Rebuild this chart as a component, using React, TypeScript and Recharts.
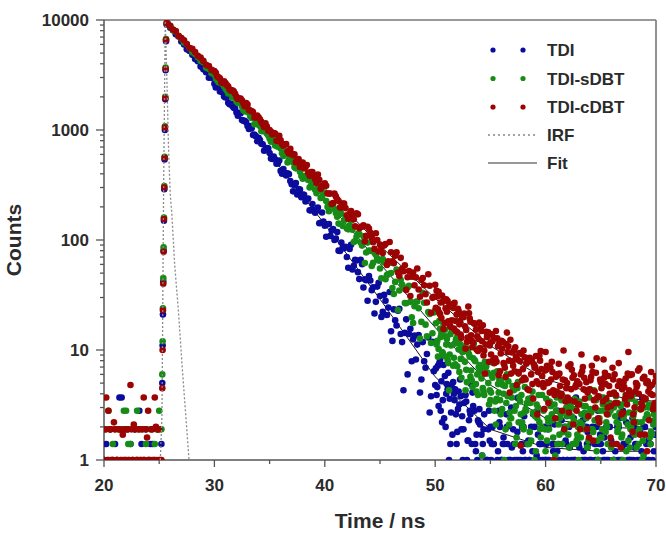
import { ScatterChart, Scatter, XAxis, YAxis, ReferenceLine, Legend } from "recharts";

// time axis (ns) for the decay part, 0.25 ns bins
const times = [
  25.75, 26, 26.25, 26.5, 26.75, 27, 27.25, 27.5, 27.75, 28,
  28.25, 28.5, 28.75, 29, 29.25, 29.5, 29.75, 30, 30.25, 30.5,
  30.75, 31, 31.25, 31.5, 31.75, 32, 32.25, 32.5, 32.75, 33,
  33.25, 33.5, 33.75, 34, 34.25, 34.5, 34.75, 35, 35.25, 35.5,
  35.75, 36, 36.25, 36.5, 36.75, 37, 37.25, 37.5, 37.75, 38,
  38.25, 38.5, 38.75, 39, 39.25, 39.5, 39.75, 40, 40.25, 40.5,
  40.75, 41, 41.25, 41.5, 41.75, 42, 42.25, 42.5, 42.75, 43,
  43.25, 43.5, 43.75, 44, 44.25, 44.5, 44.75, 45, 45.25, 45.5,
  45.75, 46, 46.25, 46.5, 46.75, 47, 47.25, 47.5, 47.75, 48,
  48.25, 48.5, 48.75, 49, 49.25, 49.5, 49.75, 50, 50.25, 50.5,
  50.75, 51, 51.25, 51.5, 51.75, 52, 52.25, 52.5, 52.75, 53,
  53.25, 53.5, 53.75, 54, 54.25, 54.5, 54.75, 55, 55.25, 55.5,
  55.75, 56, 56.25, 56.5, 56.75, 57, 57.25, 57.5, 57.75, 58,
  58.25, 58.5, 58.75, 59, 59.25, 59.5, 59.75, 60, 60.25, 60.5,
  60.75, 61, 61.25, 61.5, 61.75, 62, 62.25, 62.5, 62.75, 63,
  63.25, 63.5, 63.75, 64, 64.25, 64.5, 64.75, 65, 65.25, 65.5,
  65.75, 66, 66.25, 66.5, 66.75, 67, 67.25, 67.5, 67.75, 68,
  68.25, 68.5, 68.75, 69, 69.25, 69.5, 69.75, 70,
];

// in-between bins for 30-50 ns
const midTimes = [
  30.125, 30.375, 30.625, 30.875, 31.125, 31.375, 31.625, 31.875, 32.125, 32.375,
  32.625, 32.875, 33.125, 33.375, 33.625, 33.875, 34.125, 34.375, 34.625, 34.875,
  35.125, 35.375, 35.625, 35.875, 36.125, 36.375, 36.625, 36.875, 37.125, 37.375,
  37.625, 37.875, 38.125, 38.375, 38.625, 38.875, 39.125, 39.375, 39.625, 39.875,
  40.125, 40.375, 40.625, 40.875, 41.125, 41.375, 41.625, 41.875, 42.125, 42.375,
  42.625, 42.875, 43.125, 43.375, 43.625, 43.875, 44.125, 44.375, 44.625, 44.875,
  45.125, 45.375, 45.625, 45.875, 46.125, 46.375, 46.625, 46.875, 47.125, 47.375,
  47.625, 47.875, 48.125, 48.375, 48.625, 48.875, 49.125, 49.375, 49.625, 49.875,
];

// extra bins in the noisy tail
const tailTimes = [
  50.125, 50.375, 50.625, 50.875, 51.125, 51.375, 51.625, 51.875, 52.125, 52.375,
  52.625, 52.875, 53.125, 53.375, 53.625, 53.875, 54.125, 54.375, 54.625, 54.875,
  55.125, 55.375, 55.625, 55.875, 56.125, 56.375, 56.625, 56.875, 57.125, 57.375,
  57.625, 57.875, 58.125, 58.375, 58.625, 58.875, 59.125, 59.375, 59.625, 59.875,
  60.125, 60.375, 60.625, 60.875, 61.125, 61.375, 61.625, 61.875, 62.125, 62.375,
  62.625, 62.875, 63.125, 63.375, 63.625, 63.875, 64.125, 64.375, 64.625, 64.875,
  65.125, 65.375, 65.625, 65.875, 66.125, 66.375, 66.625, 66.875, 67.125, 67.375,
  67.625, 67.875, 68.125, 68.375, 68.625, 68.875, 69.125, 69.375, 69.625, 69.875,
];
const tailTimesB = [
  50.06, 50.31, 50.56, 50.81, 51.06, 51.31, 51.56, 51.81, 52.06, 52.31,
  52.56, 52.81, 53.06, 53.31, 53.56, 53.81, 54.06, 54.31, 54.56, 54.81,
  55.06, 55.31, 55.56, 55.81, 56.06, 56.31, 56.56, 56.81, 57.06, 57.31,
  57.56, 57.81, 58.06, 58.31, 58.56, 58.81, 59.06, 59.31, 59.56, 59.81,
  60.06, 60.31, 60.56, 60.81, 61.06, 61.31, 61.56, 61.81, 62.06, 62.31,
  62.56, 62.81, 63.06, 63.31, 63.56, 63.81, 64.06, 64.31, 64.56, 64.81,
  65.06, 65.31, 65.56, 65.81, 66.06, 66.31, 66.56, 66.81, 67.06, 67.31,
  67.56, 67.81, 68.06, 68.31, 68.56, 68.81, 69.06, 69.31, 69.56, 69.81,
];
const tailTimesC = [
  50.19, 50.44, 50.69, 50.94, 51.19, 51.44, 51.69, 51.94, 52.19, 52.44,
  52.69, 52.94, 53.19, 53.44, 53.69, 53.94, 54.19, 54.44, 54.69, 54.94,
  55.19, 55.44, 55.69, 55.94, 56.19, 56.44, 56.69, 56.94, 57.19, 57.44,
  57.69, 57.94, 58.19, 58.44, 58.69, 58.94, 59.19, 59.44, 59.69, 59.94,
  60.19, 60.44, 60.69, 60.94, 61.19, 61.44, 61.69, 61.94, 62.19, 62.44,
  62.69, 62.94, 63.19, 63.44, 63.69, 63.94, 64.19, 64.44, 64.69, 64.94,
  65.19, 65.44, 65.69, 65.94, 66.19, 66.44, 66.69, 66.94, 67.19, 67.44,
  67.69, 67.94, 68.19, 68.44, 68.69, 68.94, 69.19, 69.44, 69.69, 69.94,
];

// pre-pulse background and rising edge
const baseTimes = [
  20, 20.2, 20.4, 20.6, 20.8, 21, 21.2, 21.4, 21.6, 21.8, 22, 22.2, 22.4, 22.6,
  22.8, 23, 23.2, 23.4, 23.6, 23.8, 24, 24.2, 24.4, 24.6, 24.8, 25, 25.2,
];
const baseTimesB = [
  20.1, 20.3, 20.5, 20.7, 20.9, 21.1, 21.3, 21.5, 21.7, 21.9, 22.1, 22.3, 22.5,
  22.7, 22.9, 23.1, 23.3, 23.5, 23.7, 23.9, 24.1, 24.3, 24.5, 24.7, 24.9, 25.1,
];
const riseTimes = [25.28, 25.31, 25.34, 25.37, 25.4, 25.43, 25.46, 25.49, 25.52, 25.55, 25.58, 25.62, 25.67];

// TDI
const tdiBase = [1, 1.4, 1, 1.9, 1, 1.4, 1, 3.7, 3.7, 1, 1.9, 1, 1.4, 1, 1.9, 1, 2.8, 1.4, 1, 1.9, 1, 1.4, 1.4, 1, 1.9, 1, 1.4];
const tdiRise = [5, 11, 21, 42, 80, 150, 290, 540, 1000, 1900, 3500, 6400, 9100];
const tdiDecay = [
  9330, 8510, 8110, 7420, 7070, 6370, 5980, 5410, 5230, 4820,
  4410, 4220, 3770, 3560, 3350, 2990, 2980, 2630, 2510, 2240,
  2190, 1975, 1770, 1735, 1595, 1440, 1430, 1230, 1210, 1085,
  1085, 900, 879, 848, 749, 648, 686, 617, 545, 541,
  496, 425, 441, 386, 397, 322, 315, 259, 288, 259,
  224, 238, 186, 187, 184, 142, 178, 135, 139, 109,
  126, 103, 80, 95, 84, 70, 83, 54, 66, 51,
  66, 37, 43, 47, 35, 21.5, 37.7, 31, 22.2, 28,
  24.3, 14.8, 23.4, 16.7, 23.7, 11.8, 14.3, 6.0, 15.6, 12.5,
  8.2, 13.7, 5.4, 7.9, 9.2, 2.7, 11.9, 4.8, 7.2, 2.8,
  7.3, 4.0, 1.0, 4.6, 3.5, 1.8, 5.4, 1.0, 3.9, 1.5,
  4.9, null, 1.7, 2.9, 1.1, null,
  1, 2, 1.4, null, 2.8, 1, 1.4, 2, 1, null,
  1.4, 3.7, 1, 2, 1.4, 1, null, 2, 2.8, 1.4,
  1, 1, 2, null, 1.4, 2.8, 1, 1.4, 2, 1,
  null, 1, 3.7, 1.4, 2, 1, 1.4, null, 2, 1,
  2.8, 1.4, 1, 2, null, 1.4, 1, 2, 1, 2.8,
  1.4, null, 1, 2, 1.4, 1, 3.7, 2, 1, 1.4,
  null, 2,
];
const tdiMid = [
  2440, 2445, 2240, 2015, 1990, 1713, 1650, 1565, 1346, 1423,
  1214, 1175, 1021, 1037, 910, 789, 811, 742, 659, 682,
  552, 575, 494, 527, 400, 407, 404, 343, 277, 329,
  290, 245, 257, 233, 186, 212, 177, 197, 143, 147,
  107, 140, 122, 100, 118, 79.5, 85.4, 86.8, 56, 90.5,
  58.4, 65.1, 44.1, 60.2, 43.9, 28, 42.9, 37.1, 27.4, 40.8,
  20, 31.7, 20.8, 33.7, 12.1, 18.6, 22.8, 14.0, 4.3, 19,
  14, 7.9, 13.5, 11.2, 4.1, 11.8, 6.9, 13, 3.8, 6.4,
];
const tdiTail = [
  3.9, 7.6, 2.2, 5.8, 4.4, 1.4, 5.1, 2.6, 4.2, 1.9,
  3.3, 1.0, 2.8, 4.1, 1.4, 2.3, null, 1.9, 1.0, 2.8,
  1.4, null, 1, 2.0, 1.4, null, 1, 3.0, 1.4, 1,
  null, 2.0, 1, 1.4, null, 2.6, 1, null, 1.4, 2,
  1, null, 1.4, 1, 2.8, null, 1, 1.4, 2, null,
  1, 1.4, null, 2.3, 1, 1.4, 1, null, 2, 1.4,
  null, 1, 2.8, 1.4, 1, null, 2, 1, 1.4, null,
  1, 2.4, 1.4, null, 1, 2, 1.4, 1, null, 1.7,
];
const tdiTailB = [
  6.8, 3.1, 5.2, 2.4, 4.9, 3.6, 1.7, 4.4, 2.9, 3.8,
  1.9, 3.4, 2.3, 1.4, 2.8, 1.0, 2.1, 1.4, null, 1.9,
  1.0, 1.4, null, 2.2, 1.0, null, 1.4, 1.0, 1.9, null,
  1.0, 1.4, 2.5, null, 1.0, 1.2, null, 1.7, 1.0, null,
  1.4, 1.0, null, 2.1, 1.2, null, 1.0, 1.5, null, 1.0,
  2.4, null, 1.3, 1.0, null, 1.8, 1.0, null, 1.4, 1.0,
  null, 1.6, 1.0, 2.0, null, 1.2, 1.0, null, 1.4, 2.2,
  1.0, null, 1.3, 1.0, 1.8, null, 1.0, 1.5, null, 1.2,
];
const tdiTailC = [
  4.6, 8.1, 3.5, 2.0, 6.2, 2.7, 4.0, 1.4, 3.2, 2.5,
  3.9, 1.5, 2.6, 3.1, 1.2, 2.2, 1.7, 2.6, 1.0, 1.5,
  2.0, null, 1.2, 1.0, 1.6, 2.6, null, 1.3, 1.0, 1.8,
  null, 1.2, 1.0, 1.5, 2.0, null, 1.1, 1.4, null, 1.0,
  1.9, null, 1.2, 1.0, 1.4, 2.3, null, 1.0, 1.3, null,
  1.0, 1.6, null, 1.2, 2.0, 1.0, null, 1.4, 1.0, 1.7,
  1.2, null, 1.0, 1.5, 1.0, null, 2.4, 1.3, null, 1.0,
  1.6, 1.0, null, 1.9, 1.2, 1.0, null, 1.4, 1.0, 2.1,
];

// TDI-sDBT
const sdbtBase = [1, 1.9, 2.8, 1, 1.4, 1.9, 1, 1.9, 1.9, 2.8, 2.8, 1.4, 1.4, 1, 1.9, 2.8, 1, 1.9, 1, 1.4, 1, 1.9, 1, 1.4, 1.9, 2.8, 1.9];
const sdbtRise = [6, 12, 24, 45, 86, 160, 310, 570, 1080, 2000, 3700, 6700, 9300];
const sdbtDecay = [
  9290, 8780, 8030, 7860, 7150, 6800, 6230, 6020, 5540, 5080,
  4920, 4590, 4240, 4120, 3690, 3590, 3280, 3210, 2830, 2730,
  2610, 2380, 2150, 2160, 2000, 1815, 1770, 1645, 1480, 1465,
  1330, 1325, 1150, 1115, 978, 1007, 927, 838, 842, 722,
  705, 680, 580, 636, 537, 530, 458, 477, 418, 361,
  381, 351, 312, 332, 266, 284, 243, 267, 200, 207,
  209, 176, 141, 173, 151, 127, 136, 124, 98, 114,
  95, 108, 77, 80, 58, 78, 68, 55, 67, 44,
  49, 50, 32.3, 54, 34.8, 39.4, 26.7, 37.2, 27.4, 17.6,
  27.4, 24, 18, 26.9, 13.3, 21.3, 14.2, 23, 8.7, 13.1,
  17.2, 11.2, 4.3, 15, 11.4, 7.1, 11.3, 9.6, 4.3, 10.3,
  6.5, 11.4, 4.2, 6.3, 1.1, 7.8, 6.2, 3.5, 7.6, 2.1,
  4.1, 5.3, 1.0, 6.0, 2.7, 4.7, 1.4, 5.1, 2.6,
  1.9, 2.8, 1.4, 3.7, 1, 2.4, 1.9, 4.8, 1.2, 2.2,
  3.1, 1, 3.7, 1.7, 1.4, 2.8, null, 2.1, 3.4, 1.4,
  1, 2.6, 1.9, 1.3, 4.4, 1.9, 2.9, 1, 1.6, 3.7,
  2.2, 2.8, 1.4, null, 1.8, 3.2, 1, 3.9, 1.5, 2.0,
  2.7, 1.3, 1.9, 1, 3.5, 2.5, 1.4, 2.1, 2.9,
];
const sdbtMid = [
  3000, 2710, 2685, 2495, 2281, 2271, 1977, 1967, 1772, 1790,
  1509, 1481, 1438, 1286, 1126, 1195, 1088, 973, 971, 897,
  782, 810, 721, 742, 615, 605, 506, 559, 508, 448,
  473, 381, 382, 375, 300, 366, 287, 294, 241, 269,
  226, 183, 211, 191, 163, 188, 134, 156, 125, 151,
  95.7, 107, 113.5, 88.9, 61.8, 94.7, 79.7, 61.9, 73.3, 65,
  44.9, 62.4, 47.9, 62, 36.6, 41.6, 23.1, 43.3, 36.4, 26.6,
  38.3, 19.8, 25, 27.6, 12.7, 33.1, 17, 22.1, 11.6, 21.9,
];
const sdbtTail = [
  11.2, 18.4, 9.6, 15.3, 8.1, 13.9, 7.2, 12.4, 10.1, 5.6,
  9.8, 5.1, 8.7, 4.6, 7.9, 3.9, 6.8, 4.2, 7.1, 3.2,
  5.9, 2.8, 6.4, 3.5, 4.8, 1.9, 5.2, 2.4, 4.3, 1.6,
  3.7, 2.2, 4.6, 1.4, 3.3, 2.7, 1.2, 3.9, 2.0, 2.9,
  1.5, 3.4, 2.3, 1.1, 4.1, 2.6, 1.8, 3.0, 1.3, 2.5,
  3.6, 1.7, 2.2, null, 3.1, 1.5, 2.7, 4.3, 1.2, 2.4,
  1.9, 3.3, 1.4, 2.8, 1.0, 3.8, 2.1, 1.6, 2.6, 3.5,
  1.3, 2.2, 4.0, 1.8, 2.9, 1.1, 2.4, 3.2, 1.7, 2.3,
];
const sdbtTailB = [
  17.5, 10.2, 14.1, 8.8, 12.6, 9.1, 15.0, 7.4, 11.8, 8.3,
  10.4, 6.6, 9.2, 5.3, 8.1, 6.0, 7.3, 4.5, 6.9, 5.0,
  4.1, 6.2, 3.6, 5.4, 2.9, 4.7, 3.8, 2.4, 4.4, 3.1,
  2.2, 3.9, 2.7, 3.3, 1.8, 4.2, 2.5, 3.0, 1.6, 2.8,
  3.6, 1.9, 2.6, 3.2, 1.4, 2.4, 3.8, 2.0, 1.7, 3.0,
  2.3, 1.5, 3.4, 2.1, 2.7, 1.3, 2.9, 1.8, 3.5, 2.2,
  1.6, 2.8, 2.0, 3.3, 1.4, 2.5, 1.9, 3.1, 2.4, 1.2,
  2.7, 3.6, 1.7, 2.2, 2.9, 1.5, 2.4, 3.0, 1.8, 2.6,
];
const sdbtTailC = [
  12.1, 15.6, 9.4, 13.3, 7.6, 11.0, 8.5, 12.9, 6.3, 10.8,
  7.8, 9.9, 5.7, 8.4, 4.9, 7.0, 5.5, 3.9, 6.1, 4.3,
  5.6, 3.4, 4.9, 2.6, 4.0, 3.3, 2.1, 3.7, 2.8, 4.5,
  3.4, 2.0, 2.9, 3.6, 1.5, 2.6, 3.2, 2.2, 3.9, 1.9,
  2.4, 3.1, 1.6, 2.8, 2.1, 3.5, 1.8, 2.5, 3.3, 1.4,
  2.9, 2.0, 1.6, 3.1, 2.4, 3.7, 1.9, 2.3, 1.5, 2.8,
  3.2, 1.8, 2.6, 1.3, 3.0, 2.2, 2.7, 1.7, 3.4, 2.1,
  1.9, 2.5, 3.3, 1.4, 2.2, 3.0, 2.6, 1.6, 2.9, 2.3,
];

// TDI-cDBT
const cdbtBase = [1, 3.7, 2.8, 1.9, 1, 1.9, 1, 1.9, 1, 1.9, 1, 1.9, 4.8, 1, 1.9, 1, 1.9, 1, 3.7, 1.9, 2.8, 1, 1.9, 3.7, 1, 1.9, 1];
const cdbtBaseB = [1.9, 1, 1.9, 1, 2.2, 1, 1.9, 1, 1.7, 1, 1.9, 1, 1.9, 2.1, 1, 1.9, 1, 1.9, 1, 1.6, 1, 1.9, 1, 2.0, 1.9, 1];
const cdbtRise = [4.5, 10, 23, 40, 78, 155, 300, 560, 1050, 1950, 3600, 6600, 9400];
const cdbtDecay = [
  9180, 8840, 8190, 7930, 7170, 6870, 6550, 6050, 5570, 5480,
  5105, 4720, 4550, 4250, 3910, 3810, 3520, 3430, 3080, 2955,
  2670, 2665, 2485, 2280, 2250, 2000, 1930, 1850, 1645, 1700,
  1505, 1460, 1305, 1305, 1185, 1064, 1075, 1000, 912, 926,
  793, 806, 721, 745, 613, 612, 602, 534, 461, 507,
  460, 409, 415, 384, 330, 352, 311, 327, 265, 264,
  217, 249, 226, 197, 214, 168, 172, 171, 133, 171,
  131, 136, 109, 127, 105, 83, 100, 91, 76, 92,
  64, 77.5, 61.5, 77.5, 47, 54.6, 59, 45.8, 30.9, 50.6,
  45.7, 35.5, 43.2, 38.8, 27, 38.4, 29.8, 39.1, 23.4, 27,
  15.5, 28.9, 24.8, 18.6, 26.8, 14.5, 18.3, 20.4, 10.3, 24.8,
  13.6, 17.5, 10.1, 17.8, 12.0, 6.1, 13.4, 11.7, 8.1, 14.9,
  5.9, 12.1, 7.4, 14.4, 4.1, 7.9, 10.6, 6.3, 1.35, 9.9,
  7.5, 4.3, 8.0, 6.9, 2.6, 8.0, 5.0, 9.6, 3.3, 5.4,
  1.0,
  4.2, 6.1, 2.8, 5.3, 3.7, 7.4, 2.1, 4.8, 3.2, 9.1,
  5.6, 1.9, 4.4, 6.3, 3.0, 2.4, 5.1, 8.2, 3.6, 4.7,
  1.4, 6.0, 3.3, 4.9, 2.7, 5.5, 9.6, 3.9, 2.2, 4.6,
  6.8, 3.1, 1.7, 5.2, 4.0, 2.9, 5.8,
];
const cdbtMid = [
  3307, 3015, 2718, 2772, 2559, 2337, 2291, 2137, 1918, 1927,
  1752, 1754, 1523, 1479, 1298, 1354, 1250, 1131, 1149, 982,
  965, 936, 798, 886, 746, 742, 641, 675, 591, 510,
  545, 504, 448, 481, 383, 414, 356, 393, 293, 306,
  311, 265, 213, 264, 234, 198, 214, 195, 156, 183,
  154, 175, 128, 132, 97, 132, 116, 95.4, 115, 78.5,
  86.1, 89.1, 59.3, 96, 63.9, 72, 50.6, 68.8, 52, 35.2,
  52.3, 46.3, 38.7, 55, 30.5, 45.2, 32.2, 48.8, 21.8, 30.4,
];
const cdbtTail = [
  34.5, 21.8, 31.2, 17.6, 27.9, 16.3, 24.1, 14.8, 22.6, 12.9,
  21.4, 11.8, 19.3, 10.6, 17.2, 9.8, 16.1, 8.9, 14.6, 7.8,
  13.9, 7.6, 12.8, 6.4, 11.9, 5.7, 10.8, 6.1, 9.9, 4.8,
  9.4, 5.3, 8.6, 4.4, 7.9, 3.6, 8.8, 4.9, 6.7, 2.9,
  7.2, 4.1, 6.3, 2.4, 5.9, 3.8, 9.9, 4.5, 2.7, 6.6,
  3.4, 5.2, 1.9, 7.0, 4.3, 2.5, 5.7, 3.5, 8.4, 2.2,
  4.9, 6.2, 3.0, 1.6, 5.4, 3.9, 7.6, 2.6, 4.6, 3.2,
  5.9, 1.8, 4.2, 6.5, 2.9, 3.7, 5.0, 2.3, 4.8, 3.3,
];
const cdbtTailB = [
  24.2, 33.8, 19.5, 29.1, 22.3, 16.9, 26.0, 18.4, 23.7, 13.8,
  19.9, 15.2, 21.6, 12.1, 17.4, 13.3, 10.4, 16.8, 11.2, 14.5,
  9.1, 12.9, 7.8, 11.6, 10.3, 6.9, 9.6, 12.4, 7.2, 8.7,
  6.1, 9.2, 5.6, 7.7, 8.5, 4.9, 7.0, 6.3, 9.8, 4.6,
  6.6, 5.1, 7.8, 3.9, 6.0, 4.7, 5.4, 3.4, 7.1, 4.4,
  5.9, 2.8, 4.9, 6.4, 3.6, 4.1, 5.3, 1.5, 6.2, 3.8,
  4.5, 5.6, 2.6, 4.0, 6.9, 3.3, 4.7, 1.3, 5.1, 3.9,
  4.3, 6.0, 3.0, 4.8, 1.7, 5.5, 3.6, 4.2, 6.3, 3.1,
];
const cdbtTailC = [
  30.6, 21.1, 27.4, 24.0, 18.2, 25.3, 15.7, 21.0, 17.1, 20.2,
  16.4, 13.0, 18.1, 11.7, 15.3, 12.6, 14.9, 9.9, 13.1, 11.0,
  12.0, 8.4, 10.8, 9.3, 7.6, 11.3, 8.0, 9.5, 6.4, 8.2,
  7.9, 6.7, 5.4, 8.3, 6.0, 7.4, 5.2, 8.9, 5.8, 6.5,
  5.0, 6.9, 4.3, 5.7, 7.5, 4.0, 1.9, 5.0, 3.5, 5.6,
  4.6, 3.2, 6.0, 4.4, 5.1, 1.6, 7.2, 4.2, 3.7, 5.4,
  3.4, 4.9, 5.8, 3.1, 4.1, 1.4, 5.2, 4.4, 3.6, 6.1,
  3.8, 2.6, 5.0, 4.0, 3.3, 5.7, 1.2, 4.6, 3.9, 5.2,
];

// instrument response
const irfTimes = [25.1, 25.25, 25.4, 25.55, 25.7, 25.85, 26.0, 26.15, 26.4, 26.75, 27.1, 27.4, 27.7];
const irfValues = [1, 2.5, 300, 9800, 2800, 650, 260, 170, 60, 22, 6.6, 2.6, 1];

// fitted decays
const fitTimes = [25.67, 30, 35, 40, 45, 50, 55, 60, 65, 70];
const tdiFit = [9200, 2650, 608, 139, 29, 5.7, 1.9, 1.3, 1.2, 1.2];
const sdbtFit = [9300, 3100, 855, 236, 61, 16, 4.8, 2.4, 2.0, 1.9];
const cdbtFit = [9400, 3330, 993, 296, 89, 29.4, 10.9, 5.4, 3.9, 3.4];

const xTicks = [20, 25, 30, 35, 40, 45, 50, 55, 60, 65, 70];
const yTicks = [
  1, 2, 3, 4, 5, 6, 7, 8, 9,
  10, 20, 30, 40, 50, 60, 70, 80, 90,
  100, 200, 300, 400, 500, 600, 700, 800, 900,
  1000, 2000, 3000, 4000, 5000, 6000, 7000, 8000, 9000,
  10000,
];
const yMajor = [1, 10, 100, 1000, 10000];

const BLUE = "#0b0b9c";
const GREEN = "#168c16";
const RED = "#9c0303";
const FONT = "'Liberation Sans', Arial, sans-serif";
const TEXT = "#2b2b2b";
const AXIS = "#555";

type Pt = { x: number; y: number };

function toPoints(xs: number[], ys: (number | null)[]): Pt[] {
  const out: Pt[] = [];
  xs.forEach((x, i) => {
    const y = ys[i];
    if (y != null) out.push({ x, y });
  });
  return out;
}

const tdiData = [
  ...toPoints(baseTimes, tdiBase),
  ...toPoints(riseTimes, tdiRise),
  ...toPoints(times, tdiDecay),
  ...toPoints(midTimes, tdiMid),
  ...toPoints(tailTimes, tdiTail),
  ...toPoints(tailTimesB, tdiTailB),
  ...toPoints(tailTimesC, tdiTailC),
];
const sdbtData = [
  ...toPoints(baseTimes, sdbtBase),
  ...toPoints(riseTimes, sdbtRise),
  ...toPoints(times, sdbtDecay),
  ...toPoints(midTimes, sdbtMid),
  ...toPoints(tailTimes, sdbtTail),
  ...toPoints(tailTimesB, sdbtTailB),
  ...toPoints(tailTimesC, sdbtTailC),
];
const cdbtData = [
  ...toPoints(baseTimes, cdbtBase),
  ...toPoints(baseTimesB, cdbtBaseB),
  ...toPoints(riseTimes, cdbtRise),
  ...toPoints(times, cdbtDecay),
  ...toPoints(midTimes, cdbtMid),
  ...toPoints(tailTimes, cdbtTail),
  ...toPoints(tailTimesB, cdbtTailB),
  ...toPoints(tailTimesC, cdbtTailC),
];
const irfData = toPoints(irfTimes, irfValues);

const dot = (color: string) => (props: any) => (
  <circle cx={props.cx} cy={props.cy} r={3.3} fill={color} />
);
const noDot = () => <g />;

const XTick = (props: any) => {
  const { x, y, payload } = props;
  const major = payload.value % 10 === 0;
  return (
    <g>
      <line x1={x} x2={x} y1={y} y2={y + (major ? 7 : 4)} stroke={AXIS} strokeWidth={1.3} />
      {major && (
        <text x={x} y={y + 31} textAnchor="middle" fontFamily={FONT} fontWeight="bold" fontSize={17} fill={TEXT}>
          {payload.value}
        </text>
      )}
    </g>
  );
};

const YTick = (props: any) => {
  const { x, y, payload } = props;
  const major = yMajor.includes(payload.value);
  return (
    <g>
      <line x1={x} x2={x - (major ? 8 : 4)} y1={y} y2={y} stroke={AXIS} strokeWidth={1.3} />
      {major && (
        <text x={x - 15} y={y + 6} textAnchor="end" fontFamily={FONT} fontWeight="bold" fontSize={17} fill={TEXT}>
          {payload.value}
        </text>
      )}
    </g>
  );
};

const Title = ({ px, py, rotate, text }: { px: number; py: number; rotate?: boolean; text: string }) => (
  <text
    x={px}
    y={py}
    textAnchor="middle"
    transform={rotate ? `rotate(-90 ${px} ${py})` : undefined}
    fontFamily={FONT}
    fontWeight="bold"
    fontSize={21}
    fill={TEXT}
  >
    {text}
  </text>
);

const legendRows = [
  { name: "TDI", color: BLUE },
  { name: "TDI-sDBT", color: GREEN },
  { name: "TDI-cDBT", color: RED },
];

const LegendBox = () => (
  <svg width={180} height={150}>
    {legendRows.map((r, i) => (
      <g key={r.name}>
        <circle cx={13} cy={20 + i * 28.5} r={2.6} fill={r.color} />
        <circle cx={43} cy={20 + i * 28.5} r={2.6} fill={r.color} />
        <text x={67} y={26 + i * 28.5} fontFamily={FONT} fontWeight="bold" fontSize={17} fill={TEXT}>
          {r.name}
        </text>
      </g>
    ))}
    <line x1={8} x2={55} y1={105} y2={105} stroke="#888" strokeWidth={1.3} strokeDasharray="2 3" />
    <text x={67} y={111} fontFamily={FONT} fontWeight="bold" fontSize={17} fill={TEXT}>IRF</text>
    <line x1={8} x2={57} y1={133} y2={133} stroke="#333" strokeWidth={1.2} />
    <text x={67} y={139} fontFamily={FONT} fontWeight="bold" fontSize={17} fill={TEXT}>Fit</text>
  </svg>
);

export default function App() {
  return (
    <div style={{ position: "absolute", left: 0, top: 0, width: 666, height: 533, background: "#fff" }}>
      <ScatterChart width={666} height={533} margin={{ top: 20, right: 10, left: 10, bottom: 23 }}>
        <XAxis
          type="number"
          dataKey="x"
          domain={[20, 70]}
          ticks={xTicks}
          interval={0}
          allowDataOverflow
          tick={<XTick />}
          tickLine={false}
          tickSize={0}
          tickMargin={0}
          height={50}
          axisLine={{ stroke: AXIS, strokeWidth: 1.5 }}
          label={<Title px={380} py={528} text="Time / ns" />}
        />
        <YAxis
          type="number"
          dataKey="y"
          scale="log"
          domain={[1, 10000]}
          ticks={yTicks}
          interval={0}
          allowDataOverflow
          tick={<YTick />}
          tickLine={false}
          tickSize={0}
          tickMargin={0}
          width={94}
          axisLine={{ stroke: AXIS, strokeWidth: 1.5 }}
          label={<Title px={21} py={240} rotate text="Counts" />}
        />
        <ReferenceLine y={10000} stroke="#777" strokeWidth={1.6} />
        <ReferenceLine x={70} stroke="#777" strokeWidth={1.6} />

        <Scatter data={toPoints(fitTimes, tdiFit)} shape={noDot} line={{ stroke: "#1a1a1a", strokeWidth: 1 }} isAnimationActive={false} />
        <Scatter data={toPoints(fitTimes, sdbtFit)} shape={noDot} line={{ stroke: "#1a1a1a", strokeWidth: 1 }} isAnimationActive={false} />
        <Scatter data={toPoints(fitTimes, cdbtFit)} shape={noDot} line={{ stroke: "#1a1a1a", strokeWidth: 1 }} isAnimationActive={false} />

        <Scatter name="TDI" data={tdiData} shape={dot(BLUE)} fill={BLUE} isAnimationActive={false} />
        <Scatter name="TDI-sDBT" data={sdbtData} shape={dot(GREEN)} fill={GREEN} isAnimationActive={false} />
        <Scatter name="TDI-cDBT" data={cdbtData} shape={dot(RED)} fill={RED} isAnimationActive={false} />

        <Scatter
          name="IRF"
          data={irfData}
          shape={noDot}
          line={{ stroke: "#8a8a8a", strokeWidth: 1.3, strokeDasharray: "2 2" }}
          isAnimationActive={false}
        />

        <Legend
          layout="horizontal"
          verticalAlign="middle"
          align="center"
          wrapperStyle={{ left: 480, top: 30, width: 180 }}
          content={LegendBox}
        />
      </ScatterChart>
    </div>
  );
}
